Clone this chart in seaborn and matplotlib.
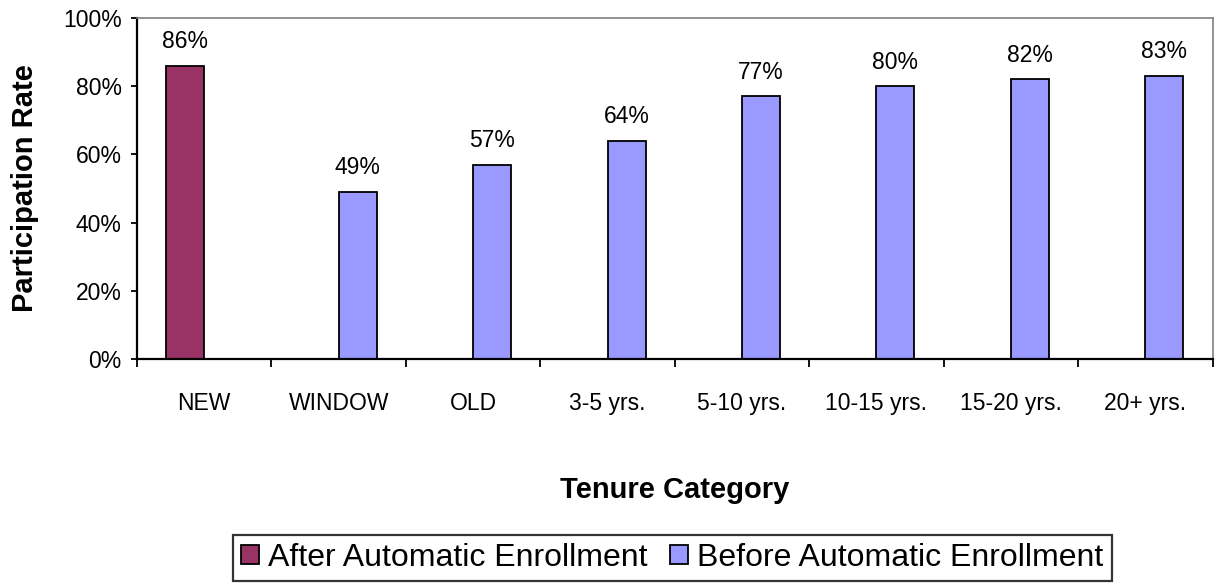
import numpy as np
import pandas as pd
import seaborn as sns
import matplotlib.pyplot as plt

categories = ['NEW', 'WINDOW', 'OLD', '3-5 yrs.', '5-10 yrs.', '10-15 yrs.', '15-20 yrs.', '20+ yrs.']
groups = ['After Automatic Enrollment', 'Before Automatic Enrollment',
          'Before Automatic Enrollment', 'Before Automatic Enrollment',
          'Before Automatic Enrollment', 'Before Automatic Enrollment',
          'Before Automatic Enrollment', 'Before Automatic Enrollment']
rates = [86, 49, 57, 64, 77, 80, 82, 83]
hue_order = ['After Automatic Enrollment', 'Before Automatic Enrollment']
colors = ['#993366', '#9999FF']

df = pd.DataFrame({'tenure': categories, 'group': groups, 'rate': rates})

sns.set_theme(style="white")
plt.rcParams['font.family'] = ['Liberation Sans', 'DejaVu Sans']
plt.rcParams['text.color'] = 'black'
plt.rcParams['axes.labelcolor'] = 'black'
plt.rcParams['xtick.color'] = 'black'
plt.rcParams['ytick.color'] = 'black'

fig = plt.figure(figsize=(12.15, 5.84), dpi=100)
ax = fig.add_axes([0.1128, 0.3853, 0.8852, 0.5839])

sns.barplot(data=df, x='tenure', y='rate', hue='group', hue_order=hue_order,
            order=categories, palette=colors, saturation=1, width=0.565, dodge=True,
            edgecolor='black', linewidth=1.3, ax=ax, legend=True)

for c in ax.containers:
    ax.bar_label(c, fmt='%.0f%%', padding=9, fontsize=16.5, color='black')

ax.set_ylim(0, 100)
ax.set_xlim(-0.5, 7.5)
ax.set_yticks(range(0, 101, 20))
ax.set_yticklabels([f'{v}%' for v in range(0, 101, 20)], fontsize=16.5)
ax.tick_params(axis='y', length=4, width=1.3, direction='out', pad=7, left=True)
ax.tick_params(axis='x', which='major', length=0, pad=24, labelsize=16.5)
ax.set_xticks(np.arange(-0.5, 8, 1), minor=True)
ax.tick_params(axis='x', which='minor', length=6, width=1.3, direction='out', bottom=True)

for side in ['left', 'bottom']:
    ax.spines[side].set_color('black')
    ax.spines[side].set_linewidth(1.6)
for side in ['top', 'right']:
    ax.spines[side].set_color('#808080')
    ax.spines[side].set_linewidth(1.2)

ax.set_ylabel('Participation Rate', fontsize=21, fontweight='bold', labelpad=17)
ax.set_xlabel('Tenure Category', fontsize=21, fontweight='bold', labelpad=44)

handles, labels = ax.get_legend_handles_labels()
ax.get_legend().remove()
leg = fig.legend(handles, labels, loc='lower center', bbox_to_anchor=(0.5535, 0.0),
                 ncol=2, fontsize=23, frameon=True, fancybox=False, edgecolor='black',
                 handlelength=0.55, handleheight=0.55, handletextpad=0.3, columnspacing=0.7,
                 borderpad=0.25, borderaxespad=0.1)
leg.get_frame().set_linewidth(1.6)

fig.savefig('out.png', dpi=100)
